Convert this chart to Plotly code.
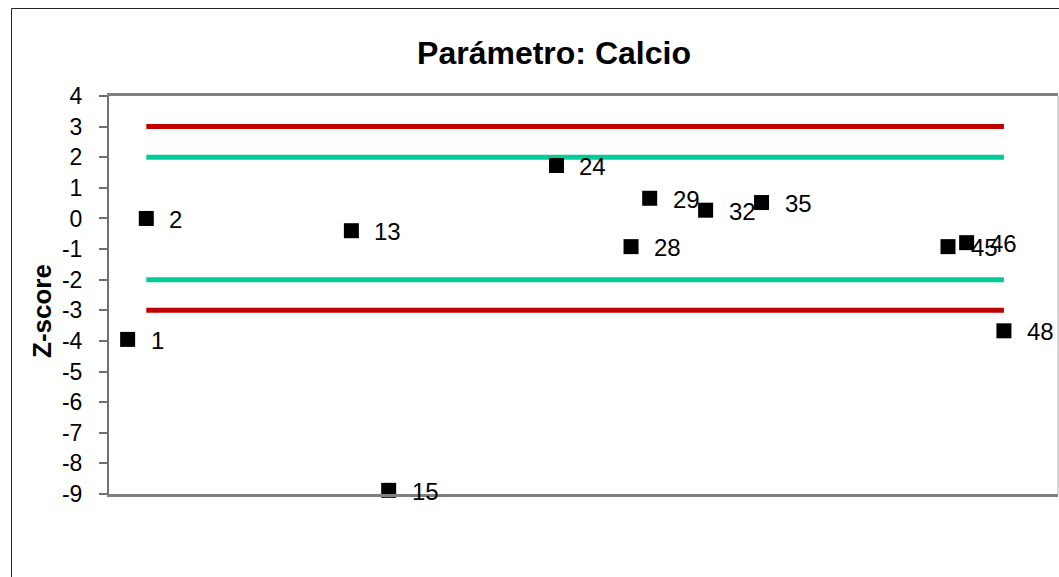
import plotly.graph_objects as go

# Data
labs = [1, 2, 13, 15, 24, 28, 29, 32, 35, 45, 46, 48]
zscores = [-3.95, 0.0, -0.40, -8.88, 1.73, -0.92, 0.66, 0.27, 0.52, -0.92, -0.79, -3.67]
limit_x = [2, 48]
limit_warn = 2
limit_action = 3
y_ticks = list(range(-9, 5))

FONT = "Liberation Sans, Arial, sans-serif"
RED = "#C00000"
TEAL = "#00CC99"

W, H = 1059, 577

fig = go.Figure()

for val, col in [(limit_action, RED), (limit_warn, TEAL), (-limit_warn, TEAL), (-limit_action, RED)]:
    fig.add_trace(go.Scatter(x=limit_x, y=[val, val], mode="lines",
                             line=dict(color=col, width=5), hoverinfo="skip",
                             showlegend=False))

fig.add_trace(go.Scatter(x=labs, y=zscores, mode="markers",
                         marker=dict(symbol="square", size=15, color="black"),
                         showlegend=False, cliponaxis=False))

for lab, z in zip(labs, zscores):
    fig.add_annotation(x=lab, y=z, text=str(lab), showarrow=False,
                       xanchor="left", yanchor="middle", xshift=21, yshift=-1,
                       font=dict(family=FONT, size=24, color="black"))

# Y axis title
fig.add_annotation(text="<b>Z-score</b>", textangle=-90, showarrow=False,
                   xref="paper", yref="paper",
                   x=(42 - 109) / 949, y=(494 - 311) / 398,
                   xanchor="center", yanchor="middle",
                   font=dict(family=FONT, size=26, color="black"))

# Outer chart border (extends past image at right/bottom)
fig.add_shape(type="rect", xref="paper", yref="paper",
              x0=(11.5 - 109) / 949, x1=1.02, y0=-0.25, y1=(494 - 8.5) / 398,
              line=dict(color="#222222", width=1), layer="below")
# Right plot border (light gray)
fig.add_shape(type="line", xref="paper", yref="paper", x0=1, x1=1, y0=0, y1=1,
              line=dict(color="#C8C8C8", width=1.5))

fig.update_layout(
    width=W, height=H,
    margin=dict(l=109, r=1, t=96, b=H - 96 - 398),
    paper_bgcolor="white", plot_bgcolor="white",
    font=dict(family=FONT, color="black"),
    title=dict(text="<b>Parámetro: Calcio</b>", xref="container", yref="container",
               x=554 / W, y=1 - 53 / H, xanchor="center", yanchor="middle",
               font=dict(family=FONT, size=32, color="black")),
    xaxis=dict(range=[0, 50.9], showgrid=False, zeroline=False, showticklabels=False,
               ticks="", showline=True, linecolor="#808080", linewidth=2.5, mirror=True),
    yaxis=dict(range=[-9, 4], tickvals=y_ticks, ticktext=[str(v) for v in y_ticks],
               showgrid=False, zeroline=False, showline=True, linecolor="#707070",
               linewidth=2, ticks="outside", ticklen=8, tickcolor="#707070", tickwidth=1.5,
               ticklabelstandoff=12,
               tickfont=dict(family=FONT, size=23, color="black")),
)

fig.write_html("out.html", config={"displayModeBar": False},
               post_script="document.body.style.margin='0';document.body.style.overflow='hidden';")
